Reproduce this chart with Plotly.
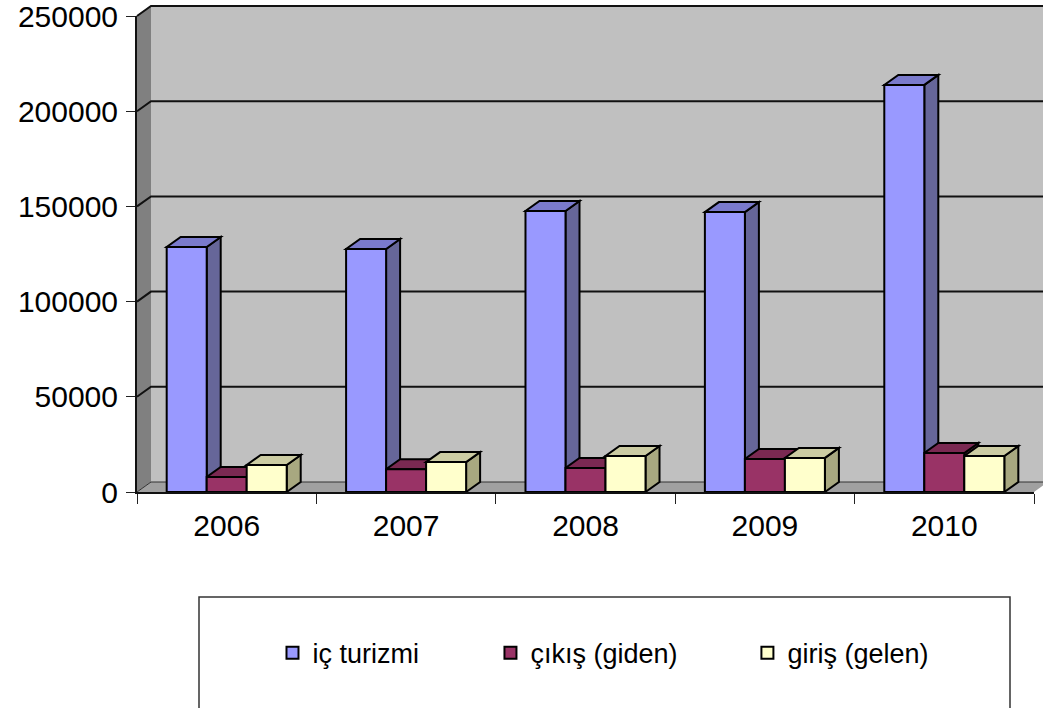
import plotly.graph_objects as go

years = ["2006", "2007", "2008", "2009", "2010"]
ic_turizmi = [128700, 127600, 147600, 147000, 213800]
cikis = [7900, 12000, 12600, 17300, 20500]
giris = [14200, 15700, 18900, 17900, 18900]
y_ticks = [0, 50000, 100000, 150000, 200000, 250000]
series_names = ["iç turizmi", "çıkış (giden)", "giriş (gelen)"]
face_colors = ["#9999FF", "#993366", "#FFFFCC"]
top_colors = ["#7A7ACC", "#7A2952", "#CCCCA3"]
side_colors = ["#666699", "#5C2340", "#A8A880"]
legend_left = [0.1405 + 11 / 1043, 0.3835 + 11 / 1043, 0.669 + 12 / 1043]

W, H = 1043, 708
L, R, T, B = 137, 9, 16, 216
PW, PH = W - L - R, H - T - B
Y_MAX = 250000
BARGAP = 0.331
DEPTH_X, DEPTH_Y = 14, 10      # pixels of oblique depth
FONT = "Liberation Sans, Arial, sans-serif"

dxp, dyp = DEPTH_X / PW, DEPTH_Y / PH      # depth in paper units
dxd = DEPTH_X / (PW / len(years))          # depth in category units
dyd = DEPTH_Y / PH * Y_MAX                 # depth in value units


def path(points):
    return "M" + " L".join(f"{x},{y}" for x, y in points) + " Z"


shapes = []
right_edge = 1 + 30 / PW
shapes.append(dict(type="path", xref="paper", yref="paper", layer="below",
                   path=path([(dxp, dyp), (right_edge, dyp), (right_edge, 1 + dyp), (dxp, 1 + dyp)]),
                   fillcolor="#C0C0C0", line=dict(width=0)))
shapes.append(dict(type="path", xref="paper", yref="paper", layer="below",
                   path=path([(0, 0), (dxp, dyp), (dxp, 1 + dyp), (0, 1)]),
                   fillcolor="#808080", line=dict(width=0)))
shapes.append(dict(type="path", xref="paper", yref="paper", layer="below",
                   path=path([(0, 0), (1, 0), (1 + dxp, dyp), (dxp, dyp)]),
                   fillcolor="#A0A0A0", line=dict(width=0)))
for v in y_ticks:
    yp = v / Y_MAX
    lw = 1 if v == 0 else 2
    shapes.append(dict(type="path", xref="paper", yref="paper", layer="below",
                       path=f"M0,{yp} L{dxp},{yp + dyp} L{right_edge},{yp + dyp}",
                       line=dict(color="#111111" if v else "#333333", width=lw)))

all_series = [ic_turizmi, cikis, giris]
bw = (1 - BARGAP) / len(all_series)
for c in range(len(years)):
    for s, vals in enumerate(all_series):
        x0 = c - 1.5 * bw + s * bw
        x1 = x0 + bw
        v = vals[c]
        line = dict(color="black", width=2)
        shapes.append(dict(type="path", xref="x", yref="y", layer="below",
                           path=path([(x1, 0), (x1 + dxd, dyd), (x1 + dxd, v + dyd), (x1, v)]),
                           fillcolor=side_colors[s], line=line))
        shapes.append(dict(type="path", xref="x", yref="y", layer="below",
                           path=path([(x0, v), (x1, v), (x1 + dxd, v + dyd), (x0 + dxd, v + dyd)]),
                           fillcolor=top_colors[s], line=line))

shapes.append(dict(type="rect", xref="paper", yref="paper", layer="above",
                   x0=(199 - L) / PW, x1=(1010 - L) / PW, y0=-(760 - 492) / PH, y1=-(597 - 492) / PH,
                   line=dict(color="#333333", width=1.5), fillcolor="rgba(0,0,0,0)"))

fig = go.Figure()
legend_ids = ["legend", "legend2", "legend3"]
for s, vals in enumerate(all_series):
    fig.add_trace(go.Bar(x=years, y=vals, name=series_names[s], legend=legend_ids[s], showlegend=True,
                         marker=dict(color=face_colors[s], line=dict(color="black", width=2))))

leg = {}
for i, lid in enumerate(legend_ids):
    leg[lid] = dict(x=legend_left[i], y=-0.287, xanchor="left", yanchor="top", orientation="h",
                    bgcolor="rgba(0,0,0,0)", borderwidth=0,
                    font=dict(family=FONT, size=27, color="black"),
                    itemclick=False, itemdoubleclick=False)

fig.update_layout(
    width=W, height=H, margin=dict(l=L, r=R, t=T, b=B, pad=0, autoexpand=False),
    barmode="group", bargap=BARGAP, bargroupgap=0,
    paper_bgcolor="white", plot_bgcolor="rgba(0,0,0,0)",
    shapes=shapes, hovermode=False,
    font=dict(family=FONT, color="black"),
    xaxis=dict(type="category", range=[-0.5, 4.5], tickson="boundaries", ticks="outside", ticklen=10,
               tickwidth=1.2, tickcolor="#222222", showgrid=False, zeroline=False, showline=True,
               linecolor="#111111", linewidth=2, automargin=False,
               tickfont=dict(family=FONT, size=30, color="black"), ticklabelstandoff=6),
    yaxis=dict(range=[0, Y_MAX], tickvals=y_ticks, ticks="outside", ticklen=9, tickwidth=1.2,
               tickcolor="#222222", showgrid=False, zeroline=False, showline=True, linecolor="#111111",
               linewidth=2, automargin=False, tickfont=dict(family=FONT, size=30, color="black"),
               ticklabelstandoff=2, ticklabeloverflow="allow", tickformat="d"),
    **leg,
)

fig.write_html("out.html", post_script="document.body.style.margin='0';",
               config={"displayModeBar": False})
